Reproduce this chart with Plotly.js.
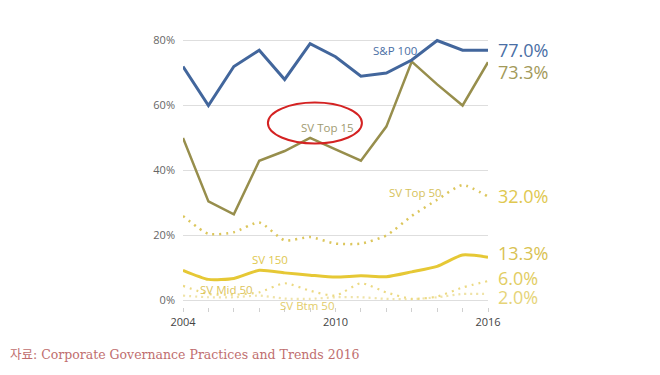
<!DOCTYPE html>
<html>
<head>
<meta charset="utf-8">
<script src="https://cdn.plot.ly/plotly-3.0.1.min.js"></script>
<style>html,body{margin:0;padding:0;background:#fff;}#chart{width:660px;height:375px;}</style>
</head>
<body>
<div id="chart"></div>
<script>
const years = [2004,2005,2006,2007,2008,2009,2010,2011,2012,2013,2014,2015,2016];
const sp100   = [72,60,72,77,68,79,75,69,70,74,80,77,77.0];
const svTop15 = [50,30.5,26.5,43,46,50,46.5,43,53.5,73.5,66.5,60,73.3];
const svTop50 = [26,20.5,21,24,18.5,19.5,17.5,17.5,20,26,31,35.5,32.0];
const sv150   = [9.3,6.5,6.8,9.3,8.5,7.8,7.2,7.6,7.3,8.8,10.5,14,13.3];
const svMid50 = [4.5,2,1.8,2.5,5.3,3,1.5,5.3,2.5,0.5,1.2,4,6.0];
const svBtm50 = [1.5,1,1,1.5,0.6,0.5,1,1,0.5,0.4,1,2,2.0];
const seriesNames = ['S&P 100','SV Top 15','SV Top 50','SV 150','SV Mid 50','SV Btm 50'];
const tickYears = [2004,2010,2016];
const yTicks = [0,20,40,60,80];
const sourceText = '자료: Corporate Governance Practices and Trends 2016';

const colors = ['#42669c','#978e4c','#dcc65c','#e6c835','#ecd982','#efe3a8'];
const endColors = ['#4a6fa5','#a39a5a','#e0c850','#d9c252','#e2cd62','#e6d478'];
const allData = [sp100, svTop15, svTop50, sv150, svMid50, svBtm50];
const styles = [
  {width:3, dash:'solid', shape:'linear'},
  {width:2.5, dash:'solid', shape:'linear'},
  {width:2.5, dash:'2px,5px', shape:'spline'},
  {width:3, dash:'solid', shape:'spline'},
  {width:2.2, dash:'2px,5px', shape:'spline'},
  {width:2.2, dash:'2px,4px', shape:'spline'}
];

const traces = allData.map((d,i)=>({
  x: years, y: d, type:'scatter', mode:'lines', name: seriesNames[i],
  line:{color:colors[i], width:styles[i].width, dash:styles[i].dash, shape:styles[i].shape, smoothing:0.6},
  hoverinfo:'skip'
}));
const ordered = [traces[5],traces[4],traces[3],traces[2],traces[1],traces[0]];

const labelPos = [
  {x:2012.34, y:76.9, c:'#4a6fa5'},
  {x:2009.70, y:53.2, c:'#a09a70'},
  {x:2013.13, y:33.2, c:'#d6c25a'},
  {x:2007.42, y:12.6, c:'#e0c850'},
  {x:2005.73, y:3.4, c:'#dcc45a'},
  {x:2008.88, y:-1.6, c:'#e2cc6a'}
];
const annotations = seriesNames.map((n,i)=>({
  x:labelPos[i].x, y:labelPos[i].y, xref:'x', yref:'y', text:n, showarrow:false,
  font:{family:'Open Sans, sans-serif', size:11.5, color:labelPos[i].c}
}));
const endShift = [0,-10,0,4,3,-2.5];
allData.forEach((d,i)=>{
  const v = d[d.length-1];
  annotations.push({
    x:years[years.length-1], y:v, xref:'x', yref:'y', xanchor:'left', xshift:9, yshift:endShift[i],
    text:v.toFixed(1)+'%', showarrow:false, borderpad:0,
    font:{family:'Open Sans, sans-serif', size:18, color:endColors[i]}
  });
});
annotations.push({
  x:-0.574, y:-0.175, xref:'paper', yref:'paper', xanchor:'left', yanchor:'middle',
  text:sourceText, showarrow:false,
  font:{family:'DejaVu Serif, Noto Sans CJK KR, serif', size:12.5, color:'#c06e6e'}
});

const layout = {
  width:660, height:375,
  margin:{l:183, r:172, t:33, b:68},
  paper_bgcolor:'#fff', plot_bgcolor:'#fff',
  showlegend:false,
  xaxis:{
    range:[2004,2016], tickvals:years,
    ticktext:years.map(y=>tickYears.includes(y)?String(y):''),
    showgrid:false, zeroline:false, showline:false,
    ticks:'outside', ticklen:4, tickcolor:'#d0d0d0', tickwidth:1,
    tickfont:{family:'Open Sans, sans-serif', size:11, color:'#444'}, ticklabelstandoff:1
  },
  yaxis:{
    range:[-2,82.3], tickvals:yTicks, ticktext:yTicks.map(v=>v+'%'),
    showgrid:true, gridcolor:'#dedede', gridwidth:1, zeroline:false, showline:false,
    tickfont:{family:'Open Sans, sans-serif', size:11, color:'#666'}, ticklabelstandoff:7
  },
  shapes:[{
    type:'circle', xref:'x', yref:'y', x0:2007.34, x1:2011.04, y0:48.3, y1:60.9,
    line:{color:'#d42222', width:2}
  }],
  annotations: annotations
};

Plotly.newPlot('chart', ordered, layout, {staticPlot:true, displayModeBar:false});
</script>
</body>
</html>
